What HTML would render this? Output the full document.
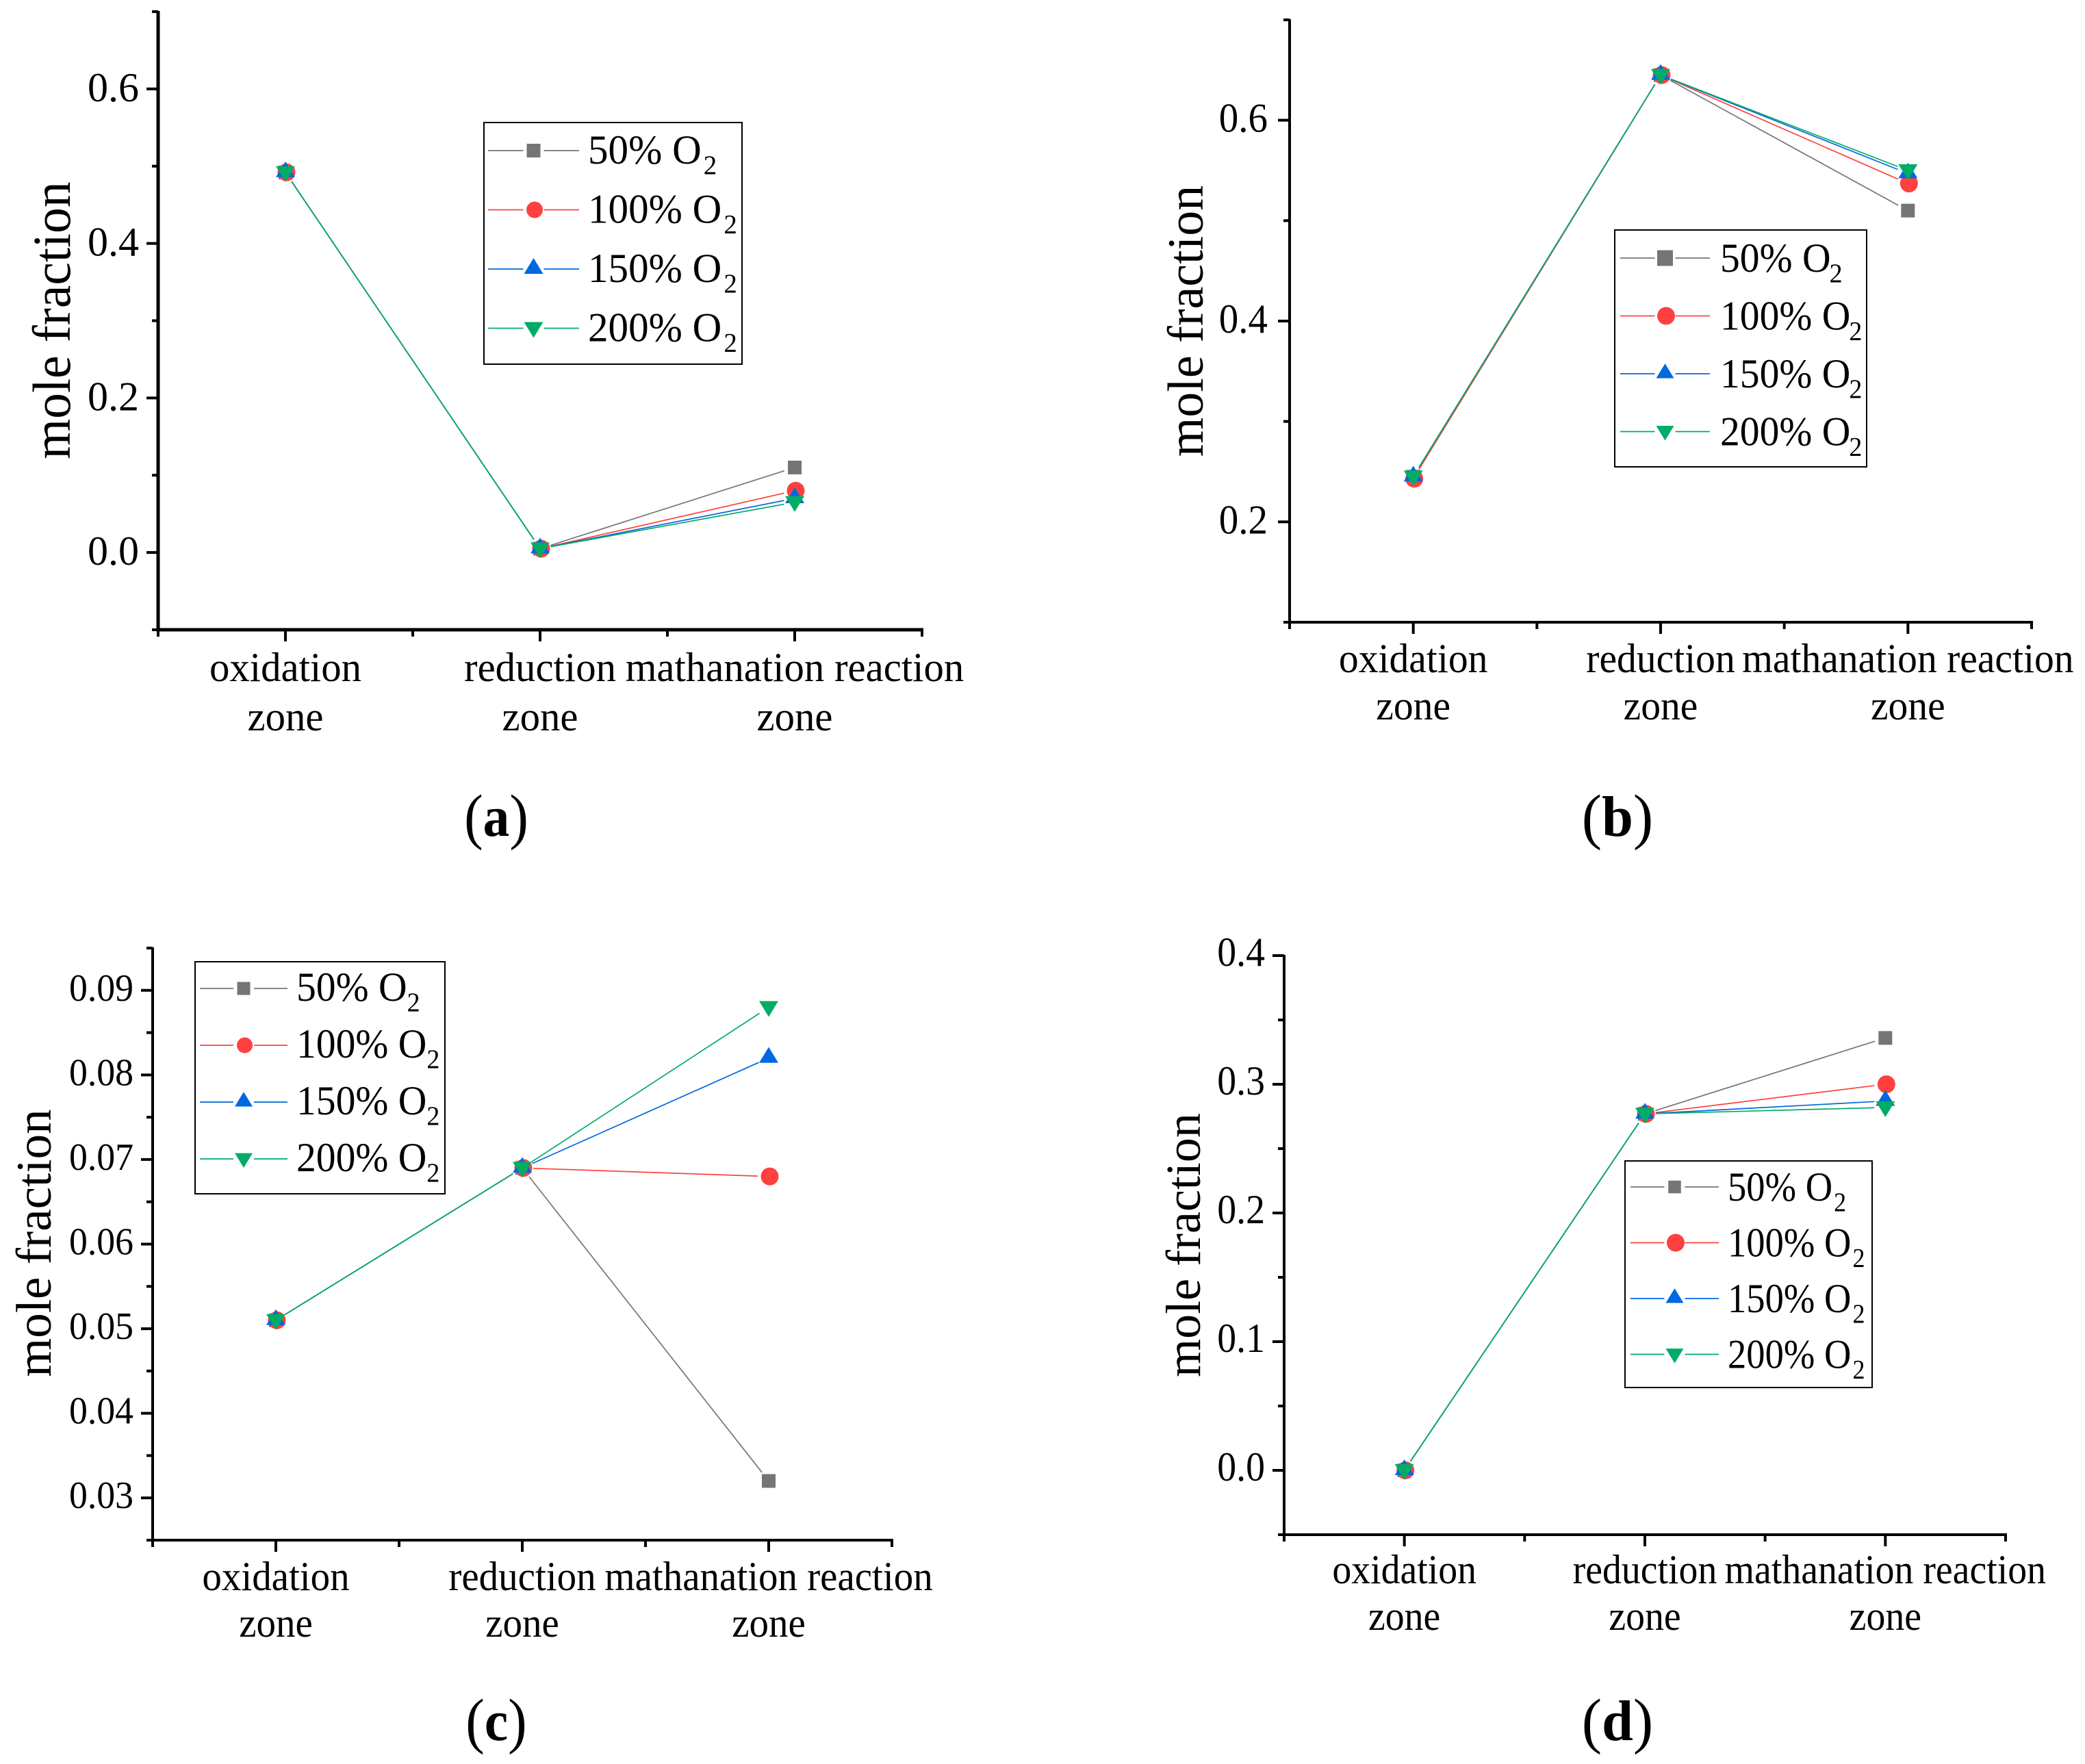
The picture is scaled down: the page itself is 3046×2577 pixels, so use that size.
<!DOCTYPE html>
<html lang="en">
<head>
<meta charset="utf-8">
<title>Mole fraction by zone for four O2 levels</title>
<style>
html,body{margin:0;padding:0;background:#fff;}
svg{display:block;}
text{font-family:"Liberation Serif","Times New Roman",serif;fill:#000;}
</style>
</head>
<body>
<svg id="figure" xmlns="http://www.w3.org/2000/svg" width="3046" height="2577" viewBox="0 0 3046 2577"></svg>
<script>
// Shared categories and series names
const categories = [['oxidation', 'zone'], ['reduction', 'zone'], ['mathanation reaction', 'zone']];
const seriesNames = ['50%', '100%', '150%', '200%'];

// Panel (a)
const panelA50 = [0.492, 0.005, 0.11];
const panelA100 = [0.492, 0.005, 0.08];
const panelA150 = [0.492, 0.005, 0.07];
const panelA200 = [0.492, 0.005, 0.065];
const panelATicks = [0.0, 0.2, 0.4, 0.6];
const panelAMinorTicks = [-0.1, 0.1, 0.3, 0.5, 0.7];

// Panel (b)
const panelB50 = [0.245, 0.645, 0.51];
const panelB100 = [0.243, 0.645, 0.537];
const panelB150 = [0.245, 0.645, 0.547];
const panelB200 = [0.245, 0.645, 0.55];
const panelBTicks = [0.2, 0.4, 0.6];
const panelBMinorTicks = [0.1, 0.3, 0.5, 0.7];

// Panel (c)
const panelC50 = [0.051, 0.069, 0.032];
const panelC100 = [0.051, 0.069, 0.068];
const panelC150 = [0.051, 0.069, 0.082];
const panelC200 = [0.051, 0.069, 0.088];
const panelCTicks = [0.03, 0.04, 0.05, 0.06, 0.07, 0.08, 0.09];
const panelCMinorTicks = [0.025, 0.035, 0.045, 0.055, 0.065, 0.075, 0.085, 0.095];

// Panel (d)
const panelD50 = [0.0, 0.277, 0.336];
const panelD100 = [0.0, 0.277, 0.3];
const panelD150 = [0.0, 0.277, 0.287];
const panelD200 = [0.0, 0.277, 0.282];
const panelDTicks = [0.0, 0.1, 0.2, 0.3, 0.4];
const panelDMinorTicks = [-0.05, 0.05, 0.15, 0.25, 0.35];

const seriesColors = ['#757575', '#ff4040', '#0068e0', '#00ac66'];
const SVGNS = 'http://www.w3.org/2000/svg';
const figure = document.getElementById('figure');

function mk(parent, tag, attrs) {
  const el = document.createElementNS(SVGNS, tag);
  for (const k in attrs) el.setAttribute(k, attrs[k]);
  parent.appendChild(el);
  return el;
}

function scaledText(parent, str, x, y, size, sx, anchor) {
  const el = mk(parent, 'text', {
    transform: 'translate(' + x + ',' + y + ') scale(' + sx + ',1)',
    'font-size': size,
    'text-anchor': anchor
  });
  el.textContent = str;
  return el;
}

function drawMarker(parent, kind, x, y, sq, r, tw) {
  let el;
  if (kind === 0) {
    el = mk(parent, 'rect', {x: x - sq / 2, y: y - sq / 2, width: sq, height: sq, fill: seriesColors[0]});
  } else if (kind === 1) {
    el = mk(parent, 'circle', {cx: x + 1.5, cy: y, r: r, fill: seriesColors[1]});
  } else if (kind === 2) {
    el = mk(parent, 'polygon', {points: (x - tw / 2) + ',' + (y + tw * 0.25) + ' ' + (x + tw / 2) + ',' + (y + tw * 0.25) + ' ' + x + ',' + (y - tw * 0.57), fill: seriesColors[2]});
  } else {
    el = mk(parent, 'polygon', {points: (x - tw / 2) + ',' + (y - tw * 0.32) + ' ' + (x + tw / 2) + ',' + (y - tw * 0.32) + ' ' + x + ',' + (y + tw * 0.5), fill: seriesColors[3]});
  }
  return el;
}

function drawPanel(cfg) {
  const g = mk(figure, 'g', {});
  
  

  const xScale = i => cfg.x0 + (i + 0.5) * (cfg.x1 - cfg.x0) / categories.length;
  const yScale = v => cfg.yBottom + (v - cfg.yMin) * (cfg.yTop - cfg.yBottom) / (cfg.yMax - cfg.yMin);

  // Series lines with the Origin-style gap next to every symbol
  cfg.series.forEach((vals, s) => {
    for (let i = 0; i < vals.length - 1; i++) {
      const ax = xScale(i), ay = yScale(vals[i]), bx = xScale(i + 1), by = yScale(vals[i + 1]);
      const len = Math.hypot(bx - ax, by - ay) || 1;
      const ux = (bx - ax) / len, uy = (by - ay) / len;
      const seg = mk(g, 'line', {
        x1: ax + ux * 16, y1: ay + uy * 16, x2: bx - ux * 16, y2: by - uy * 16,
        stroke: seriesColors[s], 'stroke-width': 1.7
      });
      
      
    }
  });

  // Symbols
  cfg.series.forEach((vals, s) => {
    vals.forEach((v, i) => {
      const m = drawMarker(g, s, xScale(i), yScale(v), 20, 13, 28);
      
      
    });
  });

  // Axes
  const yAxis = mk(g, 'line', {x1: cfg.x0, x2: cfg.x0, y1: cfg.yTop - 1, y2: cfg.yBottom + cfg.axisW / 2, stroke: '#000', 'stroke-width': cfg.axisW});
  
  
  const xAxis = mk(g, 'line', {x1: cfg.x0 - cfg.axisW / 2, x2: cfg.x1 + 2, y1: cfg.yBottom, y2: cfg.yBottom, stroke: '#000', 'stroke-width': cfg.axisW});
  
  

  // Y ticks
  cfg.ticks.forEach(v => {
    const y = yScale(v);
    const t = mk(g, 'line', {x1: cfg.x0 - 17, x2: cfg.x0, y1: y, y2: y, stroke: '#000', 'stroke-width': 4});
    
    
    const lab = scaledText(g, v.toFixed(cfg.decimals), cfg.x0 - cfg.tickGap, y + cfg.tickDy, cfg.tickFont, cfg.tickSx, 'end');
    
    
  });
  cfg.minorTicks.forEach(v => {
    const y = yScale(v);
    const t = mk(g, 'line', {x1: cfg.x0 - 9, x2: cfg.x0, y1: y, y2: y, stroke: '#000', 'stroke-width': 4});
    
    
  });

  // X ticks
  const stepX = (cfg.x1 - cfg.x0) / categories.length;
  for (let k = 0; k <= categories.length; k++) {
    const mx = cfg.x0 + k * stepX;
    const t = mk(g, 'line', {x1: mx, x2: mx, y1: cfg.yBottom, y2: cfg.yBottom + 10, stroke: '#000', 'stroke-width': 4});
    
    
  }
  categories.forEach((lines, i) => {
    const x = xScale(i);
    const t = mk(g, 'line', {x1: x, x2: x, y1: cfg.yBottom, y2: cfg.yBottom + 17, stroke: '#000', 'stroke-width': 4});
    
    
    const l1 = scaledText(g, lines[0], x, cfg.catY1, cfg.catFont, cfg.catSx, 'middle');
    
    
    const l2 = scaledText(g, lines[1], x, cfg.catY2, cfg.catFont, cfg.catSx, 'middle');
    
    
  });

  // Y title
  const yt = mk(g, 'text', {
    transform: 'translate(' + cfg.titleX + ',' + cfg.titleY + ') rotate(-90) scale(' + cfg.titleSx + ',1)',
    'font-size': cfg.titleFont,
    'text-anchor': 'middle'
  });
  yt.textContent = 'mole fraction';
  
  

  // Legend
  const lg = mk(g, 'g', {});
  
  
  const box = mk(lg, 'rect', {x: cfg.lgX0, y: cfg.lgY0, width: cfg.lgX1 - cfg.lgX0, height: cfg.lgY1 - cfg.lgY0, fill: '#fff', stroke: '#000', 'stroke-width': 2});
  
  
  seriesNames.forEach((name, s) => {
    const y = cfg.lgRow0 + s * cfg.lgPitch;
    const mx = (cfg.lgLine0 + cfg.lgLine1) / 2 + cfg.lgMarkDx;
    const entry = mk(lg, 'g', {});
    
    
    const ln = mk(entry, 'line', {x1: cfg.lgLine0, x2: cfg.lgLine1, y1: y, y2: y, stroke: seriesColors[s], 'stroke-width': 1.7});
    
    
    const gapBg = mk(entry, 'rect', {x: mx - 15, y: y - 4, width: 30, height: 8, fill: '#fff'});
    
    
    const mkr = drawMarker(entry, s, mx, y, cfg.lgSq, cfg.lgR, cfg.lgTri);
    
    
    const label = name + ' O';
    const tx = scaledText(entry, label, cfg.lgText, y + cfg.lgBase, cfg.lgFont, cfg.lgSx, 'start');
    
    
    const em = name.length === 3 ? 2.805 : 3.305;
    const sub = scaledText(entry, '2', cfg.lgText + em * cfg.lgFont * cfg.lgSx + cfg.lgSubDx, y + cfg.lgBase + 15, cfg.lgFont * 0.66, cfg.lgSx, 'start');
    
    
  });

  // Caption: thin tall parentheses around a bold letter
  const cap = mk(g, 'text', {
    transform: 'translate(' + cfg.capX + ',' + cfg.capY + ') scale(' + cfg.capSx + ',1)',
    'font-size': 90,
    'text-anchor': 'middle'
  });
  
  
  cap.appendChild(document.createTextNode('('));
  const letter = mk(cap, 'tspan', {'font-weight': 'bold', 'font-size': 84, dy: -2});
  letter.textContent = cfg.id;
  const close = mk(cap, 'tspan', {dy: 2});
  close.textContent = ')';
}

drawPanel({
  id: 'a', series: [panelA50, panelA100, panelA150, panelA200], ticks: panelATicks, minorTicks: panelAMinorTicks,
  decimals: 1, x0: 231, x1: 1347, yTop: 17, yBottom: 920, yMin: -0.1, yMax: 0.7, axisW: 5,
  tickGap: 28, tickDy: 18, tickFont: 60, tickSx: 1,
  catY1: 995, catY2: 1067, catFont: 60, catSx: 0.98,
  titleX: 102, titleY: 468, titleFont: 78, titleSx: 0.97,
  lgX0: 707, lgX1: 1084, lgY0: 179, lgY1: 532, lgRow0: 220, lgPitch: 86.5, lgLine0: 713, lgLine1: 846,
  lgMarkDx: 0, lgSq: 20, lgR: 12, lgTri: 28,
  lgText: 859, lgBase: 19, lgFont: 60, lgSx: 0.985, lgSubDx: 3,
  capX: 725, capY: 1223, capSx: 0.92
});
drawPanel({
  id: 'b', series: [panelB50, panelB100, panelB150, panelB200], ticks: panelBTicks, minorTicks: panelBMinorTicks,
  decimals: 1, x0: 1884, x1: 2968, yTop: 29, yBottom: 909, yMin: 0.1, yMax: 0.7, axisW: 4,
  tickGap: 32, tickDy: 17, tickFont: 60, tickSx: 0.95,
  catY1: 982, catY2: 1051, catFont: 60, catSx: 0.96,
  titleX: 1757, titleY: 469, titleFont: 74, titleSx: 1,
  lgX0: 2359, lgX1: 2727, lgY0: 336, lgY1: 682, lgRow0: 377, lgPitch: 84.5, lgLine0: 2367, lgLine1: 2498,
  lgMarkDx: 0, lgSq: 23, lgR: 13, lgTri: 26,
  lgText: 2513, lgBase: 20, lgFont: 60, lgSx: 0.96, lgSubDx: -2,
  capX: 2363, capY: 1223, capSx: 0.98
});
drawPanel({
  id: 'c', series: [panelC50, panelC100, panelC150, panelC200], ticks: panelCTicks, minorTicks: panelCMinorTicks,
  decimals: 2, x0: 223, x1: 1303, yTop: 1385, yBottom: 2250, yMin: 0.025, yMax: 0.095, axisW: 4,
  tickGap: 28, tickDy: 15, tickFont: 56, tickSx: 0.96,
  catY1: 2323, catY2: 2391, catFont: 60, catSx: 0.95,
  titleX: 74, titleY: 1816, titleFont: 73, titleSx: 1,
  lgX0: 285, lgX1: 650, lgY0: 1405, lgY1: 1744, lgRow0: 1444, lgPitch: 83, lgLine0: 292, lgLine1: 420,
  lgMarkDx: 0, lgSq: 19, lgR: 11.5, lgTri: 26,
  lgText: 433, lgBase: 18, lgFont: 60, lgSx: 0.96, lgSubDx: 0,
  capX: 725, capY: 2544, capSx: 0.92
});
drawPanel({
  id: 'd', series: [panelD50, panelD100, panelD150, panelD200], ticks: panelDTicks, minorTicks: panelDMinorTicks,
  decimals: 1, x0: 1876, x1: 2930, yTop: 1396, yBottom: 2242, yMin: -0.05, yMax: 0.4, axisW: 4,
  tickGap: 28, tickDy: 15, tickFont: 60, tickSx: 0.93,
  catY1: 2313, catY2: 2381, catFont: 60, catSx: 0.93,
  titleX: 1753, titleY: 1819, titleFont: 72, titleSx: 1,
  lgX0: 2374, lgX1: 2735, lgY0: 1696, lgY1: 2027, lgRow0: 1734, lgPitch: 81.5, lgLine0: 2382, lgLine1: 2511,
  lgMarkDx: 0, lgSq: 18.5, lgR: 13, lgTri: 26,
  lgText: 2524, lgBase: 20, lgFont: 60, lgSx: 0.91, lgSubDx: 2,
  capX: 2363, capY: 2544, capSx: 0.98
});
</script>
</body>
</html>
